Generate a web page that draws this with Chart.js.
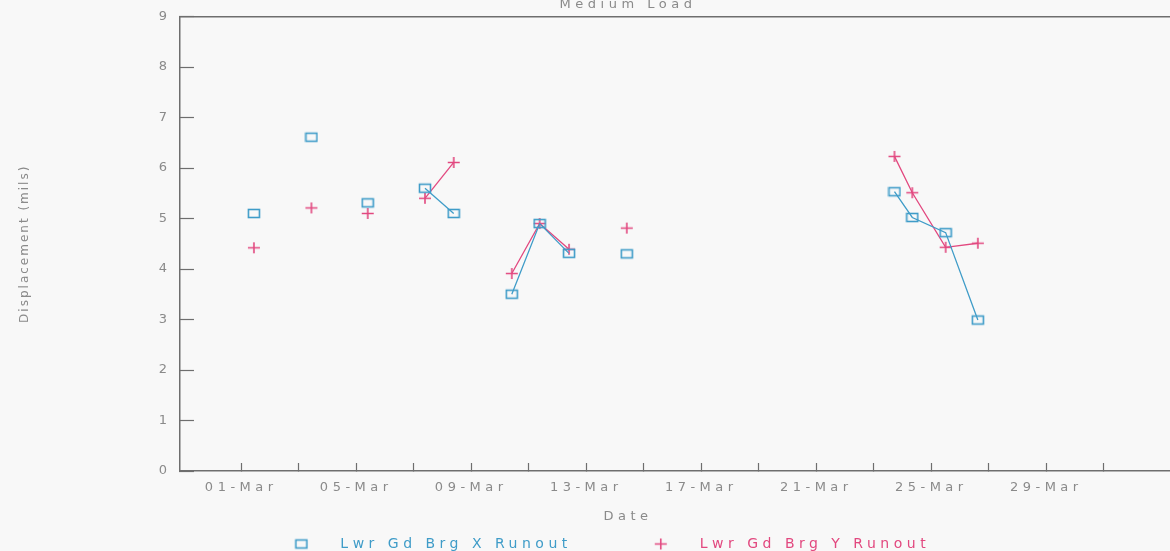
<!DOCTYPE html>
<html>
<head>
<meta charset="utf-8">
<script src="https://cdn.jsdelivr.net/npm/chart.js@4/dist/chart.umd.min.js"></script>
<style>
  html, body { margin: 0; padding: 0; background: #f8f8f8; overflow: hidden; }
  #wrap { width: 1256px; height: 551px; }
</style>
</head>
<body>
<div id="wrap"><canvas id="runout" width="1256" height="551"></canvas></div>
<script>
// x = day of March (01-Mar = 1)
const days    = [1.44, 3.44, 5.40, 7.39, 8.39, 10.41, 11.38, 12.40, 14.41, 23.72, 24.34, 25.50, 26.62];
const xRunout = [5.10, 6.61, 5.31, 5.60, 5.10, 3.50, 4.90, 4.31, 4.30, 5.53, 5.02, 4.72, 2.99];
const yRunout = [4.42, 5.21, 5.10, 5.40, 6.11, 3.91, 4.90, 4.39, 4.81, 6.23, 5.51, 4.43, 4.51];

const tickDays   = [1, 3, 5, 7, 9, 11, 13, 15, 17, 19, 21, 23, 25, 27, 29, 31];
const labelDays  = [1, 5, 9, 13, 17, 21, 25, 29];
const labelTexts = ['01-Mar', '05-Mar', '09-Mar', '13-Mar', '17-Mar', '21-Mar', '25-Mar', '29-Mar'];

const BLUE = '#3f9cc8';
const PINK = '#e2487f';
const GREY = '#8a8a8a';
const AXIS = '#6e6e6e';
const FONT = 'DejaVu Sans';

// marker images (cx = where the mark sits inside the image)
function marker(kind, color, width, cx) {
  const c = document.createElement('canvas');
  c.width = width; c.height = 13;
  const g = c.getContext('2d');
  g.strokeStyle = color;
  g.lineWidth = 1.6;
  if (kind === 'square') {
    g.strokeRect(cx - 5.5, 2.5, 11, 8);
  } else {
    g.beginPath();
    g.moveTo(cx - 6, 6.5); g.lineTo(cx + 6, 6.5);
    g.moveTo(cx, 1); g.lineTo(cx, 12);
    g.stroke();
  }
  return c;
}
const squarePt = marker('square', BLUE, 14, 7);
const crossPt  = marker('cross', PINK, 14, 7);
const squareLeg = marker('square', BLUE, 80, 11.75);
const crossLeg  = marker('cross', PINK, 80, 11.75);

function points(vals) {
  return days.map((d, i) => ({x: d, y: vals[i]}));
}

// break the line where readings are more than a day and a half apart
const gapSegment = {
  borderColor: c => (c.p1.parsed.x - c.p0.parsed.x > 1.5 ? 'transparent' : undefined)
};

// plotter-style wide lettering
const spacing = {
  id: 'spacing',
  beforeLayout(chart) { chart.ctx.letterSpacing = '4.5px'; },
  beforeDraw(chart) { chart.ctx.letterSpacing = '4.5px'; },
  beforeDatasetsDraw(chart) { chart.ctx.letterSpacing = '2px'; }
};

Chart.defaults.font.family = FONT;
Chart.defaults.font.size = 13;
Chart.defaults.color = GREY;

new Chart(document.getElementById('runout'), {
  type: 'scatter',
  data: {
    datasets: [{
      label: 'Lwr Gd Brg X Runout',
      data: points(xRunout),
      showLine: true,
      borderColor: BLUE,
      borderWidth: 1.3,
      pointStyle: squarePt,
      pointRadius: 6,
      segment: gapSegment
    }, {
      label: 'Lwr Gd Brg Y Runout',
      data: points(yRunout),
      showLine: true,
      borderColor: PINK,
      borderWidth: 1.3,
      pointStyle: crossPt,
      pointRadius: 6,
      segment: gapSegment
    }]
  },
  options: {
    responsive: false,
    animation: false,
    events: [],
    layout: { padding: { top: -3, bottom: -10, left: 0, right: 0 } },
    scales: {
      x: {
        type: 'linear',
        position: 'bottom',
        min: -1.131,
        max: 36.04,
        afterBuildTicks: s => { s.ticks = tickDays.map(v => ({value: v})); },
        afterFit: s => { s.height = 28; },
        ticks: {
          autoSkip: false,
          maxRotation: 0,
          padding: 17.2,
          color: GREY,
          callback: v => {
            const i = labelDays.indexOf(v);
            return i < 0 ? '' : labelTexts[i];
          }
        },
        grid: { drawOnChartArea: false, tickLength: -8, tickColor: AXIS, tickWidth: 1.2 },
        border: { color: AXIS, width: 1.5 }
      },
      top: {
        type: 'linear',
        position: 'top',
        min: -1.131,
        max: 36.04,
        ticks: { display: false },
        grid: { display: false, drawTicks: false },
        border: { color: AXIS, width: 1.5 }
      },
      y: {
        min: 0,
        max: 9,
        afterFit: s => { s.paddingTop = 0; s.paddingBottom = 0; },
        ticks: { stepSize: 1, padding: 22.5, color: GREY },
        grid: { drawOnChartArea: false, tickLength: -14, tickColor: AXIS, tickWidth: 1.2, z: 1 },
        border: { color: AXIS, width: 1.5, z: 1 },
        title: {
          display: true,
          text: 'Displacement (mils)',
          color: GREY,
          font: { size: 12 },
          padding: { top: 17.8, bottom: 104 }
        }
      }
    },
    plugins: {
      tooltip: { enabled: false },
      title: {
        display: true,
        text: 'Medium Load',
        color: GREY,
        font: { size: 13, weight: 'normal' },
        padding: { top: 0, bottom: 3.9 }
      },
      legend: {
        position: 'bottom',
        title: {
          display: true,
          text: 'Date',
          color: GREY,
          font: { size: 13 },
          padding: { top: 11.5, bottom: -102.6 }
        },
        labels: {
          usePointStyle: true,
          pointStyleWidth: 7.5,
          padding: 113.5,
          font: { size: 14 },
          generateLabels: chart => {
            const items = Chart.defaults.plugins.legend.labels.generateLabels(chart);
            items.forEach((it, i) => {
              it.pointStyle = i === 0 ? squareLeg : crossLeg;
              it.fontColor = i === 0 ? BLUE : PINK;
            });
            return items;
          }
        }
      }
    }
  },
  plugins: [spacing]
});
</script>
</body>
</html>
